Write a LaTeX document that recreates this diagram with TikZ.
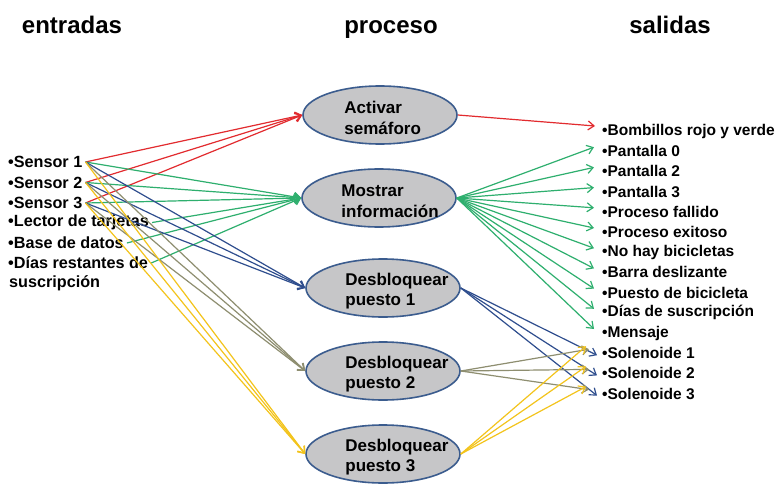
\documentclass[tikz,border=0pt]{standalone}
\usepackage{fontspec}
\setmainfont{Liberation Sans}
\usetikzlibrary{arrows.meta,shapes.geometric}
\definecolor{cred}{HTML}{E22B2F}
\definecolor{cgreen}{HTML}{2EAF6E}
\definecolor{cblue}{HTML}{2F4E8E}
\definecolor{colive}{HTML}{8E8E70}
\definecolor{cyellow}{HTML}{F3C41C}
\definecolor{cfill}{HTML}{C6C6C8}
\definecolor{cborder}{HTML}{3B5C8E}
\begin{document}
\begin{tikzpicture}[x=1pt,y=-1pt,
  head/.style={anchor=base,inner sep=0pt,font=\bfseries\fontsize{24}{28}\selectfont},
  item/.style={anchor=west,inner sep=0pt,font=\bfseries\fontsize{15.5}{18}\selectfont},
  initem/.style={item,font=\bfseries\fontsize{16.2}{18}\selectfont},
  proc/.style={ellipse,draw=cborder,line width=1.6pt,fill=cfill,
    minimum width=154pt,minimum height=58pt,inner sep=0pt},
  ptext/.style={anchor=west,align=left,inner sep=0pt,
    font=\bfseries\fontsize{17}{20.5}\selectfont},
  link/.style={line width=1.2pt,-{Straight Barb[length=6pt,width=9pt]}},
]
\useasboundingbox[fill=white] (0,0) rectangle (775,484);

% column headings
\node[head] (hin)  at (72,34)  {entradas};
\node[head] (hpro) at (391,34) {proceso};
\node[head] (hout) at (670,34) {salidas};

% inputs
\node[initem] (s1)    at (8,162)   {•Sensor 1};
\node[initem] (s2)    at (8,182.5) {•Sensor 2};
\node[initem] (s3)    at (8,203)   {•Sensor 3};
\node[initem] (lec)   at (8,222.5) {•Lector de tarjetas};
\node[initem] (bd)    at (8,243)   {•Base de datos};
\node[initem] (dias)  at (8,263)   {•Días restantes de};
\node[initem] (dias2) at (9,283.5) {suscripción};

% processes
\node[proc] (a)  at (380,115) {};
\node[proc] (m)  at (379,198) {};
\node[proc] (d1) at (383,288) {};
\node[proc] (d2) at (383,371) {};
\node[proc] (d3) at (383,454) {};
\node[ptext] (ta)  at ([xshift=42pt,yshift=-3pt]a.west)  {Activar\\semáforo};
\node[ptext] (tm)  at ([xshift=40pt,yshift=-3pt]m.west)  {Mostrar\\información};
\node[ptext] (td1) at ([xshift=40pt,yshift=-3pt]d1.west) {Desbloquear\\puesto 1};
\node[ptext] (td2) at ([xshift=40pt,yshift=-3pt]d2.west) {Desbloquear\\puesto 2};
\node[ptext] (td3) at ([xshift=40pt,yshift=-3pt]d3.west) {Desbloquear\\puesto 3};

% outputs
\node[item] (o1)  at (602,131)   {•Bombillos rojo y verde};
\node[item] (o2)  at (602,151.2) {•Pantalla 0};
\node[item] (o3)  at (602,171.4) {•Pantalla 2};
\node[item] (o4)  at (602,191.6) {•Pantalla 3};
\node[item] (o5)  at (602,211.8) {•Proceso fallido};
\node[item] (o6)  at (602,232)   {•Proceso exitoso};
\node[item] (o7)  at (602,252.2) {•No hay bicicletas};
\node[item] (o8)  at (602,272.4) {•Barra deslizante};
\node[item] (o9)  at (602,292.6) {•Puesto de bicicleta};
\node[item] (o10) at (602,312.8) {•Días de suscripción};
\node[item] (o11) at (602,333)   {•Mensaje};
\node[item] (o12) at (602,353.2) {•Solenoide 1};
\node[item] (o13) at (602,373.4) {•Solenoide 2};
\node[item] (o14) at (602,393.6) {•Solenoide 3};

% inputs -> processes
\foreach \s in {s1,s2,s3}
  \draw[link,cred] ([xshift=3pt]\s.east) -- (a.west);
\foreach \s in {s1,s2,s3,lec,bd,dias}
  \draw[link,cgreen] ([xshift=3pt]\s.east) -- (m.west);
\foreach \s in {s1,s2,s3}
  \draw[link,cblue] ([xshift=3pt]\s.east) -- (d1.west);
\foreach \s in {s1,s2,s3}
  \draw[link,colive] ([xshift=3pt]\s.east) -- (d2.west);
\foreach \s in {s1,s2,s3}
  \draw[link,cyellow] ([xshift=3pt]\s.east) -- (d3.west);

% processes -> outputs
\draw[link,cred] (a.east) -- ([xshift=-7pt,yshift=5pt]o1.west);
\foreach \i in {2,...,11}
  \draw[link,cgreen] (m.east) -- ([xshift=-8pt,yshift=4pt]o\i.west);
\foreach \i in {12,13,14}
  \draw[link,cblue] (d1.east) -- ([xshift=-5pt,yshift=-2pt]o\i.west);
\foreach \i in {12,13,14}
  \draw[link,colive] (d2.east) -- ([xshift=-13pt,yshift=4pt]o\i.west);
\foreach \i in {12,13,14}
  \draw[link,cyellow] (d3.east) -- ([xshift=-16pt,yshift=7pt]o\i.west);
\end{tikzpicture}
\end{document}
